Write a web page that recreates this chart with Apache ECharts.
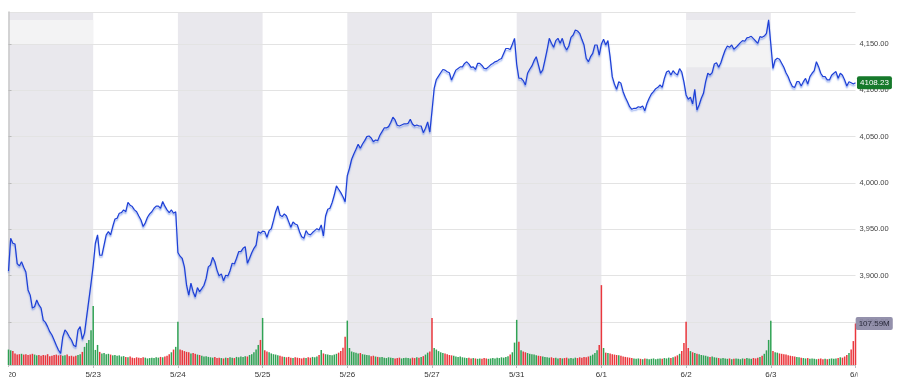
<!DOCTYPE html>
<html>
<head>
<meta charset="utf-8">
<script src="https://cdn.jsdelivr.net/npm/echarts@6/dist/echarts.min.js"></script>
<style>
html,body{margin:0;padding:0;background:#fff;}
#chart{width:900px;height:392px;}
</style>
</head>
<body>
<div id="chart"></div>
<script>
// ---- Data ----
const dayLabels = ['5/20','5/23','5/24','5/25','5/26','5/27','5/31','6/1','6/2','6/3','6/6'];
const shadedDays = [0, 2, 4, 6, 8]; // indexes of days with grey background
// colour of each session's opening volume spike (1 = up/green, 0 = down/red)
const openSpikeUp = [1, 1, 1, 1, 1, 0, 1, 0, 0, 1, 0];

// intraday price, 39 points per session
const p0520 = [3905,3940.3,3935,3934,3913,3910.5,3915,3909,3904,3884.6,3879,3865,3866.5,3873.8,3868.4,3865,3852,3849.6,3845,3839.6,3836,3830.6,3825,3819.8,3816,3834,3841.4,3838.5,3834,3830.6,3825,3823.4,3841.4,3845,3831.4,3838,3856,3873.8,3891.8];
const p0523 = [3911,3935,3944,3922,3922,3933,3944,3947.5,3944,3953,3961,3962,3967.3,3968,3971,3969,3979,3976,3974.5,3971,3969,3964.4,3960,3953,3957,3963,3966.6,3969,3972.7,3975,3975,3972.7,3980,3975,3971,3968,3971,3967.3,3969];
const p0524 = [3925,3921,3918.5,3909.5,3889.7,3879,3892,3882.7,3877,3887.2,3882.7,3886,3889.7,3897,3909.5,3911.5,3919.8,3915,3906,3899.7,3902,3894.6,3900.5,3899.7,3905.4,3913.4,3912.6,3918.8,3925.9,3925.9,3929.5,3931.3,3913.4,3918.8,3924.8,3929.5,3933,3947.5,3945.7];
const p0525 = [3948,3947.5,3941.4,3948.6,3950.7,3959.3,3969,3975.2,3965.5,3963.7,3966.6,3964.4,3958.3,3952.2,3957.9,3955.8,3954.7,3947.5,3942,3940.3,3948.6,3945,3944,3946.5,3948.6,3950.7,3949.3,3954.7,3942.8,3964.4,3971.6,3972.7,3978.8,3987,3996.8,3993.2,3989.6,3985.2,3979.8];
const p0526 = [4008,4015.9,4025.6,4031.3,4036.4,4041.8,4037.5,4042.1,4045.7,4050,4050.7,4048.6,4044.6,4046.4,4045.7,4051.5,4055.4,4059.4,4059.4,4060.8,4065.2,4071,4068,4062.3,4061.5,4062.6,4063.7,4063.7,4064.4,4068.7,4063.7,4061.5,4062.6,4061.5,4061.5,4054.3,4059,4066,4055];
const p0527 = [4078,4102,4111.7,4115.3,4118.9,4122.5,4121.8,4120,4118.9,4111,4116.4,4121.8,4123.6,4125.3,4125.3,4129,4130.7,4128.3,4124.7,4125.3,4122.5,4129,4129,4126.8,4123.6,4123.2,4125.3,4127.5,4129,4130.7,4131.5,4133.3,4134.3,4139.7,4145.1,4145.1,4144,4149.8,4156];
const p0531 = [4128,4113,4113,4110.5,4105.8,4118.4,4122.7,4126.3,4132,4136.3,4127.4,4118.4,4122,4132.7,4143.5,4156.1,4150.7,4146.4,4153.6,4156.1,4150.7,4156.1,4147.8,4143.5,4147.8,4157.2,4159.7,4165.1,4164,4161.5,4155,4148.9,4134.6,4130.9,4136.3,4139.9,4148.9,4148.9,4138];
const p0601 = [4150,4155,4148.9,4153.6,4136.3,4114.7,4106.8,4101,4109.2,4107.5,4098.5,4092.5,4087.7,4082.3,4079.5,4080.6,4080.6,4082.3,4081.6,4083,4078,4086,4091.4,4096,4098.5,4101.8,4103.2,4105.7,4103.2,4112.9,4119.7,4121.1,4116.5,4121.1,4118.3,4116.5,4123.4,4119.7,4109.2];
const p0602 = [4095,4090.3,4092.5,4085.3,4101,4078.8,4084.2,4091.4,4096.8,4109.3,4118.4,4116.5,4119,4128.4,4129.8,4124.8,4129.8,4137,4143.5,4147.8,4146.4,4148.9,4144.3,4146.4,4148.9,4151.4,4153.6,4152.9,4156.5,4157.2,4158.3,4155.7,4153.2,4150.7,4157.9,4157.2,4158.6,4161.5,4176];
const p0603 = [4150,4123.7,4132.7,4134.6,4133.5,4129.2,4124.8,4119,4114.7,4108.6,4103.9,4103.2,4109.3,4109.3,4104.6,4109.3,4112.9,4106.8,4114.7,4118.4,4121.2,4130.9,4125.5,4118.4,4114.7,4114.7,4111.2,4111.2,4116.2,4118.4,4120.2,4113,4118.4,4116.2,4111.2,4104.6,4109.3,4108.2,4106.8];
const p0606 = [4108.23];

// intraday volume (millions), 39 bars per session
const v0520 = [40,38,36,30,27,28,29,27,28,26,27,29,27,25,26,24,26,25,28,23,24,26,27,25,26,24,25,27,23,24,22,24,26,28,34,47,57,65,90];
const v0523 = [153,39,52,34,30,31,28,29,27,25,26,24,25,22,23,21,20,22,19,18,20,19,18,20,19,17,18,19,18,20,19,21,20,22,24,28,33,40,47];
const v0524 = [112,40,38,36,34,33,30,31,29,27,26,24,22,23,21,20,19,21,18,19,18,17,19,18,20,19,18,21,20,22,21,23,22,26,28,33,40,52,65];
const v0525 = [122,38,35,33,30,28,27,25,24,22,21,20,21,19,18,20,19,18,17,19,18,20,19,21,20,22,26,39,30,28,27,26,25,27,29,32,36,45,73];
const v0526 = [115,44,35,33,32,30,31,28,27,26,25,23,24,22,21,20,21,19,18,20,19,18,17,18,19,17,18,19,18,17,19,18,20,19,21,23,27,32,35];
const v0527 = [122,44,40,36,33,31,30,28,26,25,24,22,21,22,20,19,18,19,17,18,17,16,17,16,18,17,16,17,18,17,19,18,20,19,21,23,27,33,58];
const v0531 = [117,60,38,35,33,31,29,28,27,25,24,23,22,21,20,19,20,18,19,17,18,17,18,19,17,18,17,19,18,20,19,21,20,22,24,27,31,38,52];
const v0601 = [207,44,32,31,30,28,27,26,25,24,22,21,20,19,18,17,16,17,16,15,17,16,15,16,17,15,16,17,16,18,17,19,18,20,22,25,29,36,57];
const v0602 = [112,44,36,33,31,29,28,26,25,24,22,21,22,20,19,18,17,18,17,16,17,15,16,17,16,15,17,16,18,17,16,18,17,19,21,24,29,38,65];
const v0603 = [115,36,33,32,30,29,28,27,25,24,23,22,21,20,19,18,17,18,16,17,16,15,16,17,15,16,15,16,17,16,17,18,20,19,22,26,31,40,62];
const v0606 = [107.59];

// ---- Build series ----
const PER_DAY = 39;
const price = [].concat(p0520,p0523,p0524,p0525,p0526,p0527,p0531,p0601,p0602,p0603,p0606);
const volume = [].concat(v0520,v0523,v0524,v0525,v0526,v0527,v0531,v0601,v0602,v0603,v0606);
const lastIdx = price.length - 1;

const GREEN = '#1f9b47', RED = '#e8262d';
const priceData = price.map((v, i) => [i, v]);
const volData = volume.map((v, i) => {
  let up;
  if (i % PER_DAY === 0) up = openSpikeUp[i / PER_DAY] === 1;
  else up = price[i] >= price[i - 1];
  const item = { value: [i, v], itemStyle: { color: up ? GREEN : RED, opacity: 0.92 } };
  if (i === lastIdx) {
    item.label = {
      show: true, position: ['60%', 0], align: 'left', verticalAlign: 'middle',
      formatter: p => p.value[1].toFixed(2) + 'M',
      backgroundColor: '#8b88a5', color: '#1c1c2c', fontSize: 8,
      fontFamily: 'Liberation Sans, Arial, sans-serif',
      padding: [3, 3, 2, 3], borderRadius: 2
    };
  }
  return item;
});

const bandAreas = shadedDays.map(d => [{ xAxis: d * PER_DAY }, { xAxis: (d + 1) * PER_DAY }]);
const lightAreas = [
  [{ xAxis: 0, yAxis: 4150, itemStyle: { color: '#f3f3f4' } }, { xAxis: PER_DAY, yAxis: 'max' }],
  [{ xAxis: 8 * PER_DAY, yAxis: 4125, itemStyle: { color: '#f3f3f4' } }, { xAxis: 9 * PER_DAY, yAxis: 'max' }]
];

const FONT = 'Liberation Sans, Arial, sans-serif';
const chart = echarts.init(document.getElementById('chart'), null, { renderer: 'canvas' });
chart.setOption({
  animation: false,
  backgroundColor: '#ffffff',
  grid: { left: 8.5, right: 44.5, top: 12, bottom: 27, containLabel: false, outerBoundsMode: 'none' },
  xAxis: {
    type: 'value', min: 0, max: lastIdx, interval: PER_DAY, z: 2,
    axisLine: { show: true, lineStyle: { color: '#cfcfcf', width: 1 } },
    axisTick: { show: true, length: 3, lineStyle: { color: '#bdbdbd' } },
    splitLine: { show: false },
    axisLabel: {
      margin: 6, fontSize: 8, color: '#333', fontFamily: FONT,
      formatter: v => dayLabels[Math.round(v / PER_DAY)] || ''
    }
  },
  yAxis: [
    {
      type: 'value', position: 'right', min: 3803.6, max: 4184.5, splitNumber: 8, z: 2,
      axisLine: { show: true, lineStyle: { color: '#c8c8c8', width: 1.5 } },
      axisTick: { show: true, length: 3, lineStyle: { color: '#bbbbbb' } },
      splitLine: { show: true, lineStyle: { color: '#e3e3e3', width: 1 } },
      axisLabel: {
        margin: 4, fontSize: 7.5, color: '#444', fontFamily: FONT,
        showMinLabel: false, showMaxLabel: false,
        formatter: v => v.toLocaleString('en-US', { minimumFractionDigits: 2, maximumFractionDigits: 2 })
      }
    },
    {
      type: 'value', position: 'left', min: 0, max: 915, show: false,
      splitLine: { show: false }
    }
  ],
  series: [
    {
      name: 'bands', type: 'line', data: priceData, yAxisIndex: 0, z: 1, silent: true,
      showSymbol: false, lineStyle: { opacity: 0 },
      markArea: {
        silent: true,
        itemStyle: { color: '#e9e8ed' },
        data: bandAreas.concat(lightAreas)
      }
    },
    {
      name: 'volume', type: 'bar', data: volData, yAxisIndex: 1, z: 3,
      barWidth: 1.5, silent: true
    },
    {
      name: 'price', type: 'line', data: priceData, yAxisIndex: 0, z: 4,
      showSymbol: false, silent: true,
      lineStyle: {
        color: '#1d3fd6', width: 1.2,
        shadowColor: 'rgba(80,120,230,0.6)', shadowBlur: 1.5, shadowOffsetY: 2
      },
      endLabel: {
        show: true, distance: 1.5,
        formatter: p => p.value[1].toFixed(2),
        backgroundColor: '#16792b', color: '#ffffff', fontSize: 8, fontFamily: FONT,
        padding: [3, 3, 2, 3], borderRadius: 2
      }
    }
  ],
  graphic: [
    { type: 'rect', left: 0, top: 367, z: 100, shape: { width: 9, height: 25 }, style: { fill: '#ffffff' } },
    { type: 'rect', left: 857.5, top: 367, z: 100, shape: { width: 42.5, height: 25 }, style: { fill: '#ffffff' } }
  ]
});
</script>
</body>
</html>
